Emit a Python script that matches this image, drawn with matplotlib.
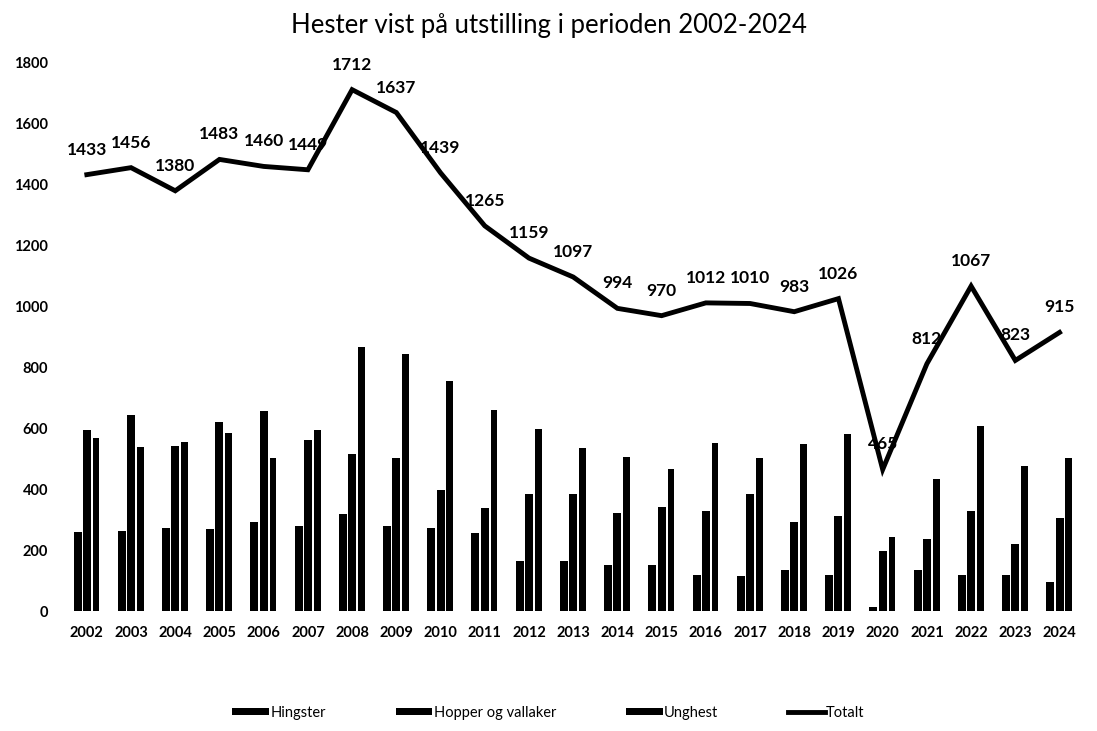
import matplotlib
matplotlib.use("Agg")
import matplotlib.pyplot as plt
import numpy as np

years = [str(y) for y in range(2002, 2025)]
hingster = [261, 262, 273, 268, 291, 281, 320, 281, 273, 255, 163, 163, 152, 150, 120,
            114, 134, 118, 14, 134, 118, 118, 94]
hopper = [596, 645, 541, 620, 656, 563, 515, 502, 398, 339, 386, 386, 322, 341, 328,
          383, 291, 313, 197, 236, 328, 221, 306]
unghest = [567, 539, 554, 586, 504, 595, 867, 843, 756, 659, 599, 536, 507, 468, 551,
           503, 548, 583, 244, 434, 609, 478, 503]
totalt = [1433, 1456, 1380, 1483, 1460, 1449, 1712, 1637, 1439, 1265, 1159, 1097, 994,
          970, 1012, 1010, 983, 1026, 465, 812, 1067, 823, 915]

plt.rcParams['font.family'] = ['Lato', 'DejaVu Sans']

fig = plt.figure(figsize=(10.97, 7.31), dpi=100)
ax = fig.add_axes([0.059, 0.164, 0.927, 0.75])

x = np.arange(len(years))
w = 0.18
b1 = ax.bar(x - 0.21, hingster, width=w, color='black', label='Hingster')
b2 = ax.bar(x, hopper, width=w, color='black', label='Hopper og vallaker')
b3 = ax.bar(x + 0.21, unghest, width=w * 0.85, color='black', label='Unghest')
l1, = ax.plot(x, totalt, color='black', linewidth=3.5, label='Totalt', solid_joinstyle='miter')

for xi, v in zip(x, totalt):
    ax.annotate(str(v), (xi, v), xytext=(0, 18), textcoords='offset points',
                ha='center', va='center', fontsize=12.5, fontweight='bold', color='black')

ax.set_xlim(-0.5, len(years) - 0.5)
ax.set_ylim(0, 1800)
ax.set_yticks(range(0, 1801, 200))
ax.set_xticks(x)
ax.set_xticklabels(years)
ax.tick_params(axis='both', length=0, labelsize=10.5, colors='black')
ax.tick_params(axis='y', pad=12)
ax.tick_params(axis='x', pad=11)
for lab in ax.get_xticklabels() + ax.get_yticklabels():
    lab.set_fontweight('bold')
for s in ax.spines.values():
    s.set_visible(False)

fig.suptitle('Hester vist på utstilling i perioden 2002-2024', x=0.5, y=0.982,
             fontsize=18.5, fontweight='normal', va='top')

leg = fig.legend([b1, b2, b3, l1], ['Hingster', 'Hopper og vallaker', 'Unghest', 'Totalt'],
                 loc='center', bbox_to_anchor=(0.5, 0.025), ncol=4, frameon=False,
                 fontsize=10.5, handlelength=2.5, handleheight=0.45, columnspacing=4.8,
                 handletextpad=0.1)

fig.savefig('out.png', dpi=100)
